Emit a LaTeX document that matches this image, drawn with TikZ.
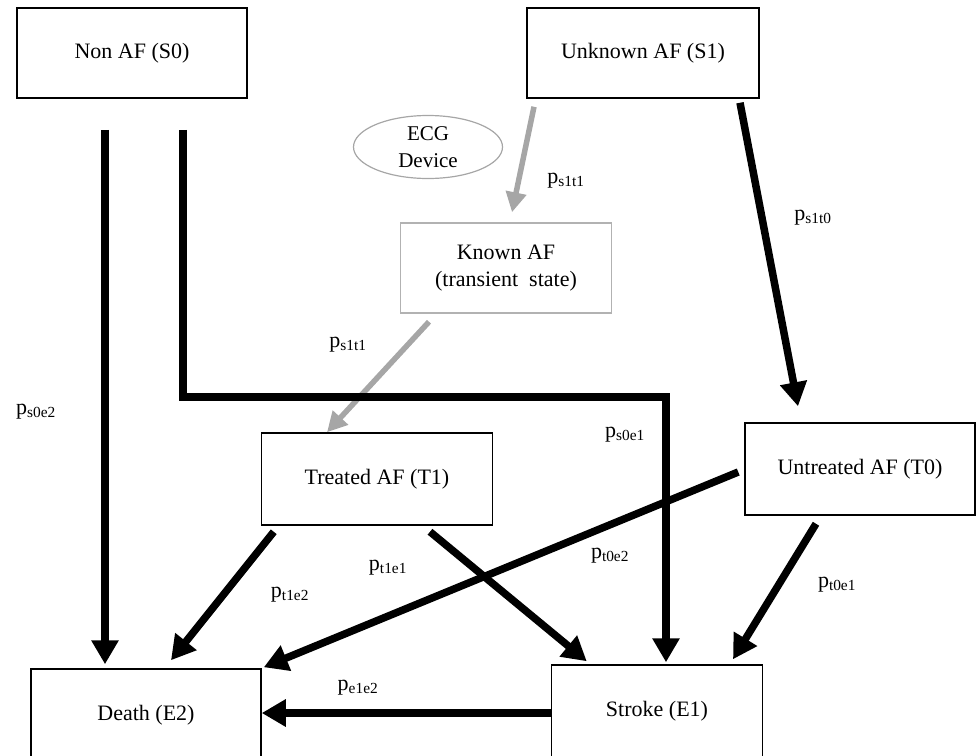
\documentclass[tikz,border=0pt]{standalone}
\usepackage{fontspec}
\setmainfont{Liberation Serif}
\usepackage{tikz}
\usetikzlibrary{arrows.meta, positioning, shapes.geometric}
\tikzset{
  statebox/.style = {draw, line width=1.5pt, minimum width=230pt, minimum height=90pt,
    align=center, font=\fontsize{22pt}{27pt}\selectfont},
  greybox/.style = {statebox, draw=black!30},
  bigarrow/.style = {line width=7.5pt, -{Triangle[length=24pt, width=26pt]}},
  greyarrow/.style = {line width=5.5pt, black!35, -{Triangle[length=20pt, width=20pt]}},
  plab/.style = {font=\fontsize{22pt}{26pt}\selectfont}
}
\newcommand{\prob}[1]{p\textsubscript{#1}}

\begin{document}
\begin{tikzpicture}[x=1pt, y=-1pt]
  \useasboundingbox (0,0) rectangle (977,755);
  % states
  \node[statebox] (S0) at (132,53) {Non AF (S0)};
  \node[statebox, minimum width=232pt] (S1) at (643,53) {Unknown AF (S1)};
  \node[ellipse, draw=black!35, line width=1.2pt, minimum width=149pt, minimum height=63pt,
    inner sep=0pt, align=center, font=\fontsize{21pt}{27pt}\selectfont] (ecg) at (428,147) {ECG\\Device};
  \node[greybox, minimum width=211pt] (K) at (506,268) {Known AF\\(transient~~state)};
  \node[statebox, minimum width=231pt, minimum height=92pt] (T1) at (377,479) {Treated AF (T1)};
  \node[statebox, minimum height=92pt] (T0) at (860,469) {Untreated AF (T0)};
  \node[statebox, minimum height=92pt] (E2) at (146,715) {Death (E2)};
  \node[statebox, minimum width=211pt, minimum height=92pt] (E1) at (657,711) {Stroke (E1)};
  \coordinate (s0turn) at (183,397);

  % transitions
  \draw[greyarrow] ([xshift=-109pt, yshift=-8pt]S1.south) -- ([xshift=6pt, yshift=10pt]K.north);
  \draw[greyarrow] ([xshift=-77pt, yshift=-8pt]K.south) -- ([xshift=-50pt]T1.north);
  \draw[bigarrow] ([xshift=97pt, yshift=-4pt]S1.south) -- ([xshift=-62pt, yshift=16pt]T0.north);
  \draw[bigarrow] ([xshift=-27pt, yshift=-31pt]S0.south) -- ([xshift=-41pt, yshift=4pt]E2.north);
  \draw[bigarrow] ([xshift=51pt, yshift=-31pt]S0.south) -- (s0turn) -| ([xshift=9pt, yshift=2pt]E1.north);
  \draw[bigarrow] ([xshift=-6pt, yshift=-3pt]T0.west) -- ([xshift=2pt, yshift=1pt]E2.north east);
  \draw[bigarrow] ([xshift=-44pt, yshift=-8pt]T0.south) -- ([xshift=76pt, yshift=5pt]E1.north);
  \draw[bigarrow] ([xshift=13pt, yshift=-6pt]T1.south west) -- ([xshift=25pt, yshift=8pt]E2.north);
  \draw[bigarrow] ([xshift=53pt, yshift=-6pt]T1.south) -- ([xshift=36pt, yshift=3pt]E1.north west);
  \draw[bigarrow] ([yshift=-2pt]E1.west) -- ([yshift=-2pt]E1.west -| E2.east);

  % probabilities
  \node[plab] (l1) at (566,181) {\prob{s1t1}};
  \node[plab] (l2) at (813,218) {\prob{s1t0}};
  \node[plab] (l3) at (348,345) {\prob{s1t1}};
  \node[plab] (l4) at (36,412) {\prob{s0e2}};
  \node[plab] (l5) at (625,435) {\prob{s0e1}};
  \node[plab] (l6) at (610,556) {\prob{t0e2}};
  \node[plab] (l7) at (388,568) {\prob{t1e1}};
  \node[plab] (l8) at (290,595) {\prob{t1e2}};
  \node[plab] (l9) at (837,585) {\prob{t0e1}};
  \node[plab] (l10) at (358,688) {\prob{e1e2}};
\end{tikzpicture}
\end{document}
